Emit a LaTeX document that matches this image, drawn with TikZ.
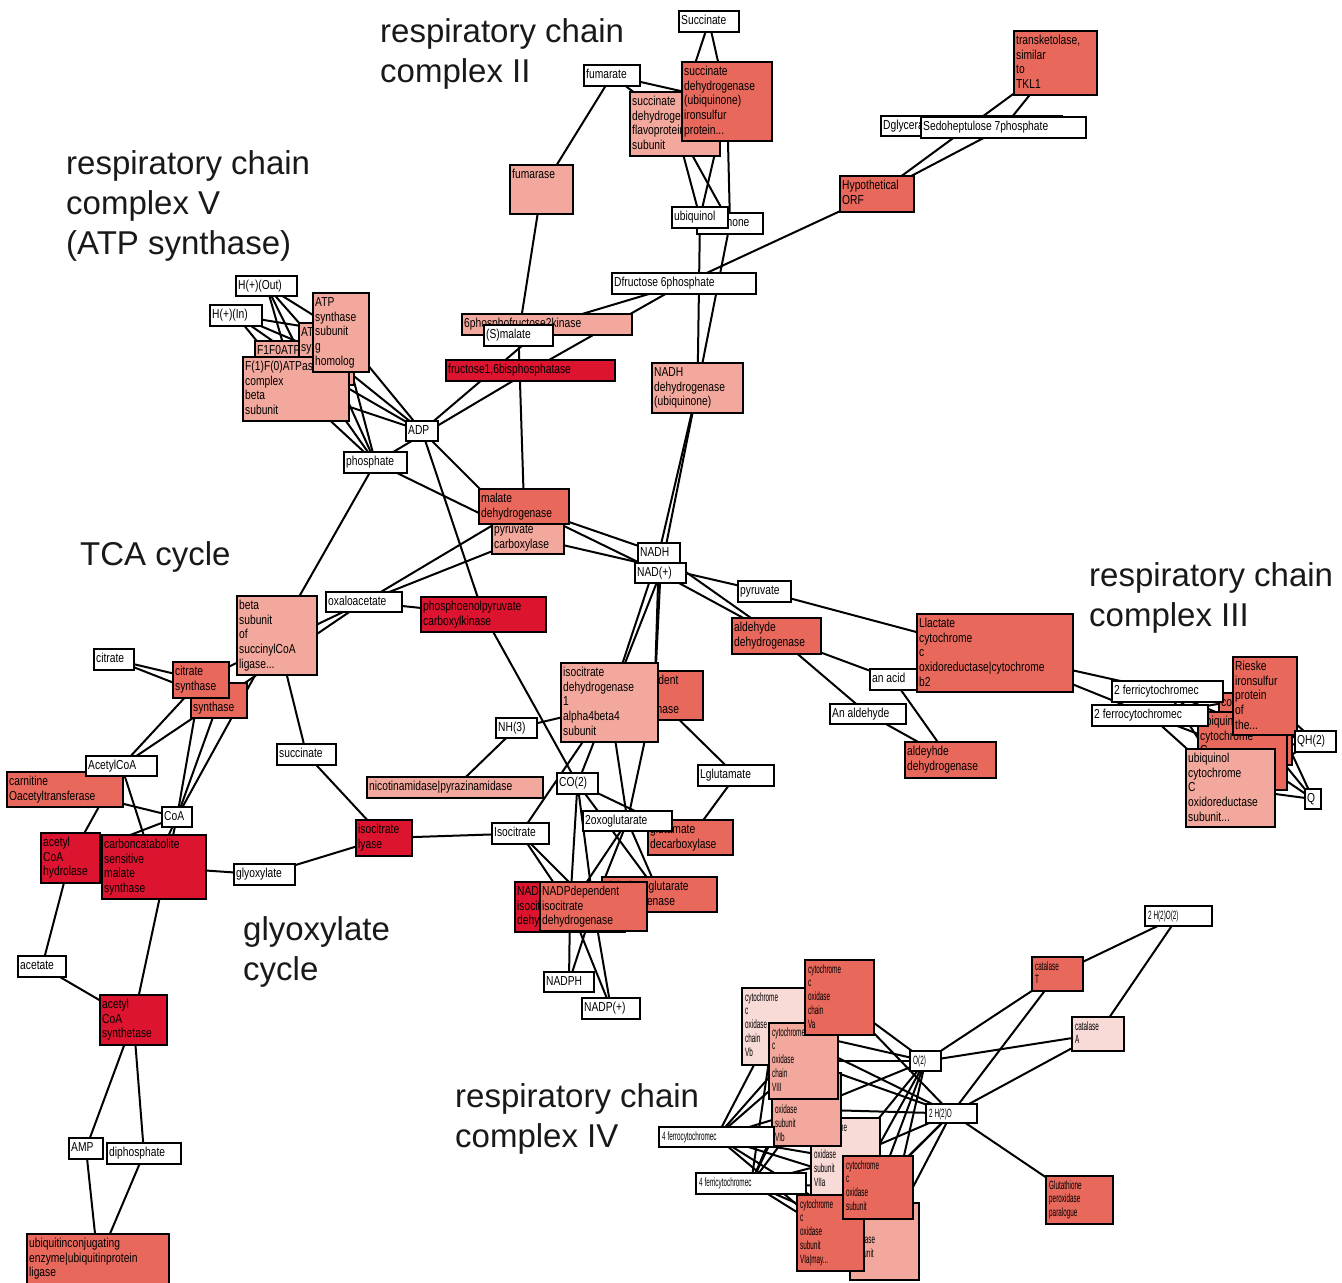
\documentclass[tikz,border=0pt]{standalone}
\usepackage{fontspec}
\newfontfamily\nodefam{Liberation Sans}[FakeStretch=0.79]
\newfontfamily\civfam{Liberation Sans}[FakeStretch=0.53]
\newfontfamily\ttlfam{Liberation Sans}
\newcommand\nodefnt{\nodefam\fontsize{13}{14.6}\selectfont}
\newcommand\civfnt{\civfam\fontsize{12}{13.7}\selectfont}
\newcommand\titlefnt{\ttlfam\fontsize{33}{40}\selectfont}
\definecolor{crimR}{RGB}{220,20,48}
\definecolor{midR}{RGB}{232,104,92}
\definecolor{lightR}{RGB}{242,168,156}
\definecolor{paleR}{RGB}{248,218,214}
\pgfdeclarelayer{back}
\pgfdeclarelayer{bg}
\pgfsetlayers{back,bg,main}
\tikzset{
  bx/.style={draw=black,line width=1.5pt,anchor=north west,inner sep=0pt,outer sep=0pt},
  lbl/.style={font=\nodefnt,align=left,anchor=north west,inner xsep=2pt,inner ysep=3.9pt,text=black},
  civ/.style={font=\civfnt,inner ysep=2.4pt,line width=2.4pt},
  edge/.style={draw=black,line width=2pt},
  ttl/.style={font=\titlefnt,align=left,anchor=north west,inner sep=0pt,text=black!90}
}
\newcommand\BX[8][]{%
  \pgfmathsetmacro\bxw{#5-#3}%
  \pgfmathsetmacro\bxh{#6-#4}%
  \node[bx,#1,fill=#7,minimum width=\bxw pt,minimum height=\bxh pt,
        label={[lbl,#1]north west:{\rule{0pt}{9.6pt}#8}}] (#2) at (#3,#4) {};}
\begin{document}
\begin{tikzpicture}[x=1pt,y=-1pt]
\begin{pgfonlayer}{back}
\fill[white] (0,0) rectangle (1342,1283);
\end{pgfonlayer}
\useasboundingbox (0,0) rectangle (1342,1283);
% titles
\node[ttl] (tII) at (380,18) {respiratory chain\\complex II};
\node[ttl] (tV) at (66,150) {respiratory chain\\complex V\\(ATP synthase)};
\node[ttl] (tTCA) at (80,541) {TCA cycle};
\node[ttl] (tIII) at (1089,562) {respiratory chain\\complex III};
\node[ttl] (tGly) at (243,916) {glyoxylate\\cycle};
\node[ttl] (tIV) at (455,1083) {respiratory chain\\complex IV};
% top
\BX{suc}{679}{11}{739}{32}{white}{Succinate}
\BX{fum}{584}{65}{640}{86}{white}{fumarate}
\BX{fumase}{510}{165}{573}{214}{lightR}{fumarase}
\BX{sdhA}{630}{92}{720}{156}{lightR}{succinate\\dehydrogenase\\flavoprotein\\subunit}
\BX{sdhB}{682}{62}{772}{141}{midR}{succinate\\dehydrogenase\\(ubiquinone)\\ironsulfur\\protein...}
\BX{uqn}{697}{213}{763}{234}{white}{ubiquinone}
\BX{uql}{672}{207}{728}{228}{white}{ubiquinol}
\BX{tkl}{1014}{31}{1097}{95}{midR}{transketolase,\\similar\\to\\TKL1}
\BX{dgly}{881}{116}{1062}{136}{white}{Dglyceraldehyde 3phosphate}
\BX{sedo}{921}{117}{1086}{138}{white}{Sedoheptulose 7phosphate}
\BX{hyp}{840}{176}{914}{212}{midR}{Hypothetical\\ORF}
\BX{f6p}{612}{273}{756}{294}{white}{Dfructose 6phosphate}
\BX{pfk2}{462}{314}{632}{335}{lightR}{6phosphofructose2kinase}
\BX{smal}{484}{325}{553}{346}{white}{(S)malate}
\BX{fbp}{446}{360}{615}{381}{crimR}{fructose1,6bisphosphatase}
\BX{ndh}{652}{363}{743}{413}{lightR}{NADH\\dehydrogenase\\(ubiquinone)}
\BX{pc}{492}{520}{564}{554}{lightR}{pyruvate\\carboxylase}
\BX{mdh}{479}{489}{569}{524}{midR}{malate\\dehydrogenase}
\BX{nadh}{638}{543}{680}{563}{white}{NADH}
\BX{nad}{635}{563}{686}{583}{white}{NAD(+)}
\BX{pyr}{738}{581}{791}{602}{white}{pyruvate}
% ATP synthase
\BX{hout}{236}{276}{297}{296}{white}{H(+)(Out)}
\BX{hin}{210}{305}{262}{326}{white}{H(+)(In)}
\BX{f1f0}{255}{341}{354}{385}{lightR}{F1F0ATPase}
\BX{atsy}{299}{323}{354}{385}{lightR}{ATP\\synthase}
\BX{f1beta}{243}{357}{349}{421}{lightR}{F(1)F(0)ATPase\\complex\\beta\\subunit}
\BX{atpg}{313}{293}{369}{372}{lightR}{ATP\\synthase\\subunit\\g\\homolog}
\BX{adp}{406}{421}{438}{441}{white}{ADP}
\BX{pi}{344}{452}{407}{473}{white}{phosphate}
% TCA / glyoxylate
\BX{beta}{237}{596}{317}{675}{lightR}{beta\\subunit\\of\\succinylCoA\\ligase...}
\BX{oaa}{326}{592}{402}{612}{white}{oxaloacetate}
\BX{cit}{94}{649}{134}{670}{white}{citrate}
\BX{cs2}{191}{683}{247}{718}{midR}{citrate\\synthase}
\BX{cs1}{173}{662}{229}{698}{midR}{citrate\\synthase}
\BX{carn}{7}{772}{123}{807}{midR}{carnitine\\Oacetyltransferase}
\BX{acoa}{86}{756}{157}{776}{white}{AcetylCoA}
\BX{coa}{162}{807}{192}{827}{white}{CoA}
\BX{ach}{41}{833}{100}{883}{crimR}{acetyl\\CoA\\hydrolase}
\BX{ms}{102}{835}{206}{899}{crimR}{carboncatabolite\\sensitive\\malate\\synthase}
\BX{glx}{234}{864}{295}{885}{white}{glyoxylate}
\BX{succ}{277}{744}{336}{765}{white}{succinate}
\BX{ace}{18}{956}{66}{977}{white}{acetate}
\BX{acs}{100}{995}{167}{1045}{crimR}{acetyl\\CoA\\synthetase}
\BX{amp}{69}{1138}{103}{1159}{white}{AMP}
\BX{ppi}{107}{1143}{181}{1164}{white}{diphosphate}
\BX{ubc}{27}{1234}{169}{1290}{midR}{ubiquitinconjugating\\enzyme|ubiquitinprotein\\ligase}
% centre
\BX{pepck}{421}{597}{546}{632}{crimR}{phosphoenolpyruvate\\carboxylkinase}
\BX{gdh}{606}{671}{703}{720}{midR}{NADdependent\\glutamate\\dehydrogenase}
\BX{idh1}{561}{663}{658}{742}{lightR}{isocitrate\\dehydrogenase\\1\\alpha4beta4\\subunit}
\BX{nh3}{496}{718}{537}{738}{white}{NH(3)}
\BX{nic}{367}{777}{543}{798}{lightR}{nicotinamidase|pyrazinamidase}
\BX{co2}{557}{773}{598}{794}{white}{CO(2)}
\BX{glu}{698}{765}{774}{786}{white}{Lglutamate}
\BX{gad}{648}{820}{733}{855}{midR}{glutamate\\decarboxylase}
\BX{akg}{583}{811}{672}{831}{white}{2oxoglutarate}
\BX{icl}{356}{820}{412}{856}{crimR}{isocitrate\\lyase}
\BX{icit}{492}{823}{549}{844}{white}{Isocitrate}
\BX{kgdh}{602}{877}{717}{912}{midR}{alphaketoglutarate\\dehydrogenase}
\BX{nadidh}{515}{882}{625}{932}{crimR}{NADdependent\\isocitrate\\dehydrogenase}
\BX{nadpidh}{540}{882}{647}{931}{midR}{NADPdependent\\isocitrate\\dehydrogenase}
\BX{nadph}{544}{972}{594}{992}{white}{NADPH}
\BX{nadp}{582}{998}{640}{1019}{white}{NADP(+)}
% right / complex III
\BX{aldh}{732}{618}{821}{654}{midR}{aldehyde\\dehydrogenase}
\BX{llac}{917}{614}{1073}{692}{midR}{Llactate\\cytochrome\\c\\oxidoreductase|cytochrome\\b2}
\BX{acid}{870}{669}{917}{690}{white}{an acid}
\BX{ald}{830}{704}{906}{724}{white}{An aldehyde}
\BX{aldh2}{905}{742}{996}{778}{midR}{aldeyhde\\dehydrogenase}
\BX{c3a}{1219}{693}{1292}{765}{midR}{co}
\BX{c3b}{1198}{712}{1287}{790}{midR}{ubiquinol\\cytochrome\\C\\oxidoreductase}
\BX{rieske}{1233}{657}{1297}{735}{midR}{Rieske\\ironsulfur\\protein\\of\\the...}
\BX{c3d}{1186}{749}{1275}{827}{lightR}{ubiquinol\\cytochrome\\C\\oxidoreductase\\subunit...}
\BX{ferri2}{1112}{681}{1223}{702}{white}{2 ferricytochromec}
\BX{ferro2}{1092}{705}{1208}{726}{white}{2 ferrocytochromec}
\BX{qh2}{1295}{731}{1336}{752}{white}{QH(2)}
\BX{q}{1305}{789}{1321}{809}{white}{Q}
% complex IV
\BX[civ]{h2o2}{1145}{906}{1212}{926}{white}{2 H(2)O(2)}
\BX[civ]{catT}{1032}{957}{1083}{991}{midR}{catalase\\T}
\BX[civ]{catA}{1072}{1017}{1124}{1051}{paleR}{catalase\\A}
\BX[civ]{o2}{910}{1051}{941}{1071}{white}{O(2)}
\BX[civ]{h2o}{926}{1104}{977}{1123}{white}{2 H(2)O}
\BX[civ]{gpx}{1046}{1176}{1113}{1224}{midR}{Glutathione\\peroxidase\\paralogue}
\BX[civ]{c4vb}{742}{988}{806}{1065}{paleR}{cytochrome\\c\\oxidase\\chain\\Vb}
\BX[civ]{c4viia}{811}{1118}{880}{1200}{paleR}{cytochrome\\c\\oxidase\\subunit\\VIIa}
\BX[civ]{c4vib}{772}{1073}{841}{1146}{lightR}{cytochrome\\c\\oxidase\\subunit\\VIb}
\BX[civ]{c4viii}{769}{1023}{838}{1099}{lightR}{cytochrome\\c\\oxidase\\chain\\VIII}
\BX[civ]{c4va}{805}{960}{874}{1035}{midR}{cytochrome\\c\\oxidase\\chain\\Va}
\BX[civ]{ferro4}{659}{1127}{774}{1147}{white}{4 ferrocytochromec}
\BX[civ]{ferri4}{696}{1173}{806}{1194}{white}{4 ferricytochromec}
\BX[civ]{c4bot}{850}{1203}{919}{1280}{lightR}{cytochrome\\c\\oxidase\\subunit}
\BX[civ]{c4via}{797}{1195}{864}{1271}{midR}{cytochrome\\c\\oxidase\\subunit\\VIa|may...}
\BX[civ]{c4sub}{843}{1156}{913}{1219}{midR}{cytochrome\\c\\oxidase\\subunit}
% connectors
\begin{pgfonlayer}{bg}
\foreach \a/\b in {suc/sdhA,suc/sdhB,fum/sdhA,fum/sdhB,fum/fumase,sdhA/uql,sdhA/uqn,sdhB/uql,sdhB/uqn,
  uql/ndh,uqn/ndh,fumase/smal,smal/mdh,f6p/pfk2,f6p/fbp,f6p/hyp,hyp/tkl,hyp/sedo,sedo/tkl,
  adp/pfk2,pi/fbp,ndh/nadh,ndh/nad,
  cit/cs1,cit/cs2,cs1/oaa,cs2/oaa,cs1/acoa,cs2/acoa,cs1/coa,cs2/coa,beta/coa,beta/pi,beta/succ,
  oaa/mdh,oaa/pc,oaa/pepck,carn/coa,carn/acoa,acoa/ms,acoa/ach,coa/ach,coa/ms,coa/acs,ach/ace,
  ms/glx,glx/icl,icl/succ,icl/icit,ace/acs,acs/amp,acs/ppi,amp/ubc,ppi/ubc,
  pepck/adp,pepck/co2,pc/adp,pc/pi,pc/pyr,mdh/nadh,mdh/nad,
  gdh/nh3,gdh/akg,gdh/nad,gdh/nadh,gdh/glu,idh1/icit,idh1/akg,idh1/co2,idh1/nad,idh1/nadh,
  nh3/nic,glu/gad,co2/gad,co2/nadidh,co2/nadpidh,co2/kgdh,akg/nadidh,akg/nadpidh,akg/kgdh,
  icit/nadidh,icit/nadpidh,nadph/nadpidh,nadph/nadidh,nadp/nadpidh,nadp/nadidh,
  nad/aldh,nadh/aldh,aldh/acid,aldh/ald,acid/aldh2,ald/aldh2,pyr/llac,llac/ferri2,llac/ferro2,
  o2/catT,o2/catA,h2o/catT,h2o/catA,h2o/gpx,catT/h2o2,catA/h2o2}
  {\draw[edge] (\a.center) -- (\b.center);}
\foreach \b in {f1f0,atsy,f1beta,atpg}{\foreach \m in {hout,hin,adp,pi}{\draw[edge] (\b.center) -- (\m.center);}}
\foreach \b in {c3a,c3b,rieske,c3d}{\foreach \m in {ferri2,ferro2,qh2,q}{\draw[edge] (\b.center) -- (\m.center);}}
\foreach \b in {c4vb,c4viii,c4va,c4viia,c4vib,c4bot,c4via,c4sub}{\foreach \m in {o2,h2o,ferro4,ferri4}{\draw[edge] (\b.center) -- (\m.center);}}
\end{pgfonlayer}
\end{tikzpicture}
\end{document}
